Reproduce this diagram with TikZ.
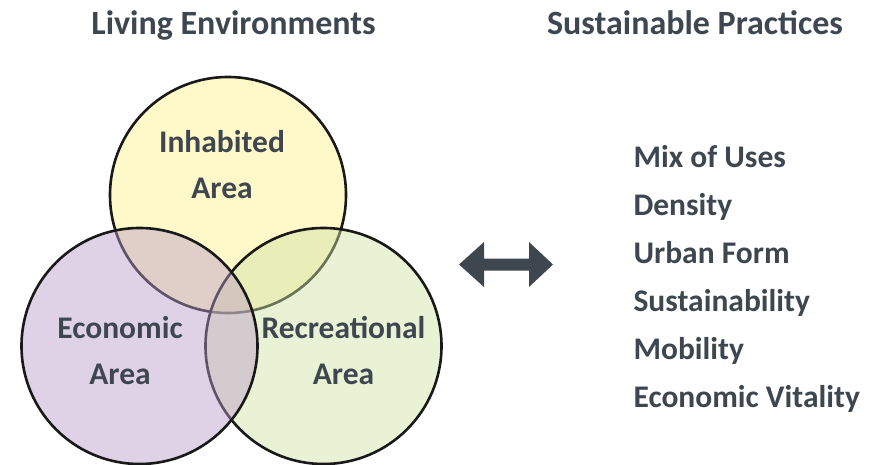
\documentclass[tikz,border=0pt]{standalone}
\usepackage{fontspec}
\setmainfont{Carlito}
\definecolor{ink}{HTML}{3E4750}
\definecolor{inhabfill}{HTML}{FFF287}
\definecolor{econfill}{HTML}{BA9BC7}
\definecolor{recrfill}{HTML}{D0E2A4}

\begin{document}
\begin{tikzpicture}[x=1pt, y=-1pt,
  area/.style={circle, draw=black!90, line width=2.6pt, minimum size=236pt,
    inner sep=0pt, fill opacity=0.45},
  lbl/.style={text=ink, font=\fontsize{31.5}{46}\selectfont\bfseries, align=center},
  head/.style={text=ink, font=\fontsize{34}{40}\selectfont\bfseries, anchor=base},
  item/.style={text=ink, font=\fontsize{31.5}{38}\selectfont\bfseries, anchor=base west}]
  %--- parameters to tweak layout easily
  \def\xitem{630}          % left edge of the practice list
  \def\ytop{167.5}         % baseline of the first practice
  \def\ygap{48}            % baseline spacing of the list
  \def\ymid{264.5}         % arrow axis

  %--- page frame (pixel grid of the reference)
  \useasboundingbox (0,0) rectangle (880,465);

  %--- headings
  \node[head] (livhead) at (233.5,35) {Living Environments};
  \node[head] (susthead) at (695,35) {Sustainable Practices};

  %--- the three areas: yellow under green under purple
  \node[area, fill=inhabfill] (inhabc) at (228,195) {};
  \node[area, fill=recrfill] (recrc) at (323.5,346) {};
  \node[area, fill=econfill] (econc) at (139.5,346) {};

  %--- labels for areas
  \node[lbl] (inhab) at (222,164.5) {Inhabited\\Area};
  \node[lbl] (econ) at (120,350.5) {Economic\\Area};
  \node[lbl] (recr) at (343.5,350.5) {Recreational\\Area};

  %--- two-headed arrow between both columns
  \fill[ink] (459,\ymid) -- (484,\ymid-22.5) -- (484,\ymid-6) --
    (529,\ymid-6) -- (529,\ymid-22.5) -- (553,\ymid) --
    (529,\ymid+22.5) -- (529,\ymid+6) -- (484,\ymid+6) --
    (484,\ymid+22.5) -- cycle;

  %--- list of practices
\foreach \txt [count=\i from 0] in {Mix of Uses, Density, Urban Form,
    Sustainability, Mobility, Economic Vitality}{
  \pgfmathsetmacro{\y}{\ytop+\i*\ygap}
  \node[item] (prac\i) at (\xitem,\y) {\txt};
}

\end{tikzpicture}
\end{document}
